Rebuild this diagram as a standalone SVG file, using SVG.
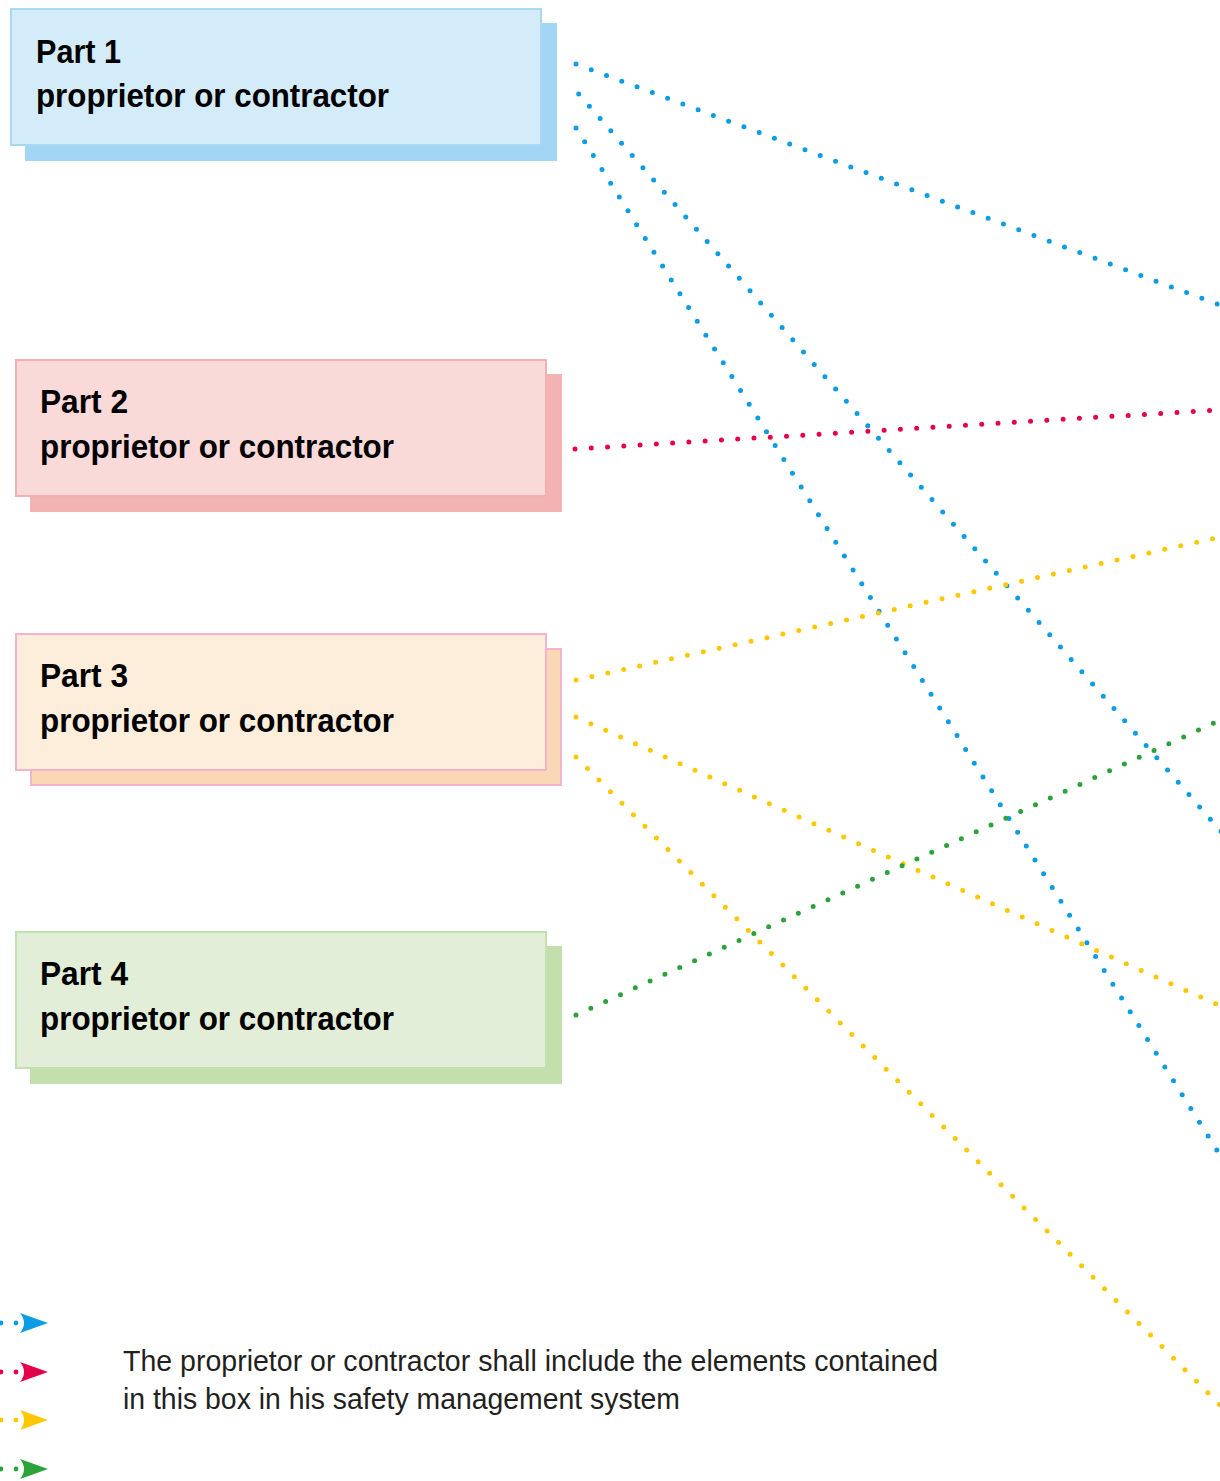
<svg xmlns="http://www.w3.org/2000/svg" width="1220" height="1481" viewBox="0 0 1220 1481">
<style>
.title{font-family:"Liberation Sans",Arial,sans-serif;font-weight:bold;font-size:34px;fill:#000}
.legend{font-family:"Liberation Sans",Arial,sans-serif;font-size:29px;fill:#231f20}
.dot{fill:none;stroke-width:5;stroke-linecap:round;stroke-dasharray:0 16.3}
.blue{stroke:#0b9de3}.red{stroke:#e4004b}.yellow{stroke:#ffc700}.green{stroke:#2ba33a}
</style>
<rect width="1220" height="1481" fill="#fff"/>
<g id="part1">
<rect x="25" y="23" width="532" height="138" fill="#a2d6f4"/>
<rect x="11" y="9" width="530" height="136" fill="#d4ecf9" stroke="#a8d8f3" stroke-width="2"/>
<text class="title" x="36" y="63" textLength="85" lengthAdjust="spacingAndGlyphs">Part 1</text>
<text class="title" x="36" y="107" textLength="353" lengthAdjust="spacingAndGlyphs">proprietor or contractor</text>
</g>
<g id="part2">
<rect x="30" y="374" width="532" height="138" fill="#f4b3b3"/>
<rect x="16" y="360" width="530" height="136" fill="#fadad9" stroke="#f4b0b0" stroke-width="2"/>
<text class="title" x="40" y="413" textLength="88" lengthAdjust="spacingAndGlyphs">Part 2</text>
<text class="title" x="40" y="458" textLength="354" lengthAdjust="spacingAndGlyphs">proprietor or contractor</text>
</g>
<g id="part3">
<rect x="31" y="649" width="530" height="136" fill="#fbd8b5" stroke="#f4b2d0" stroke-width="2"/>
<rect x="16" y="634" width="530" height="136" fill="#fdeddb" stroke="#f4b2d0" stroke-width="2"/>
<text class="title" x="40" y="687" textLength="88" lengthAdjust="spacingAndGlyphs">Part 3</text>
<text class="title" x="40" y="732" textLength="354" lengthAdjust="spacingAndGlyphs">proprietor or contractor</text>
</g>
<g id="part4">
<rect x="30" y="946" width="532" height="138" fill="#c3dfab"/>
<rect x="16" y="932" width="530" height="136" fill="#e2eed8" stroke="#c3e0b0" stroke-width="2"/>
<text class="title" x="40" y="985" textLength="88" lengthAdjust="spacingAndGlyphs">Part 4</text>
<text class="title" x="40" y="1030" textLength="354" lengthAdjust="spacingAndGlyphs">proprietor or contractor</text>
</g>
<g id="connectors">
<line class="dot blue" x1="576" y1="64" x2="1225" y2="307"/>
<line class="dot blue" x1="578.7" y1="94" x2="1225" y2="836"/>
<line class="dot blue" x1="576" y1="128" x2="1225" y2="1163"/>
<line class="dot red" x1="575" y1="449" x2="1225" y2="409.5"/>
<line class="dot yellow" x1="576" y1="680" x2="1225" y2="536"/>
<line class="dot yellow" x1="576" y1="717" x2="1225" y2="1008"/>
<line class="dot yellow" x1="576" y1="757" x2="1225" y2="1410"/>
<line class="dot green" x1="576" y1="1015" x2="1225" y2="718"/>
</g>
<g id="legend">
<g fill="#0b9de3"><circle cx="1" cy="1323" r="2.4"/><circle cx="16" cy="1323" r="2.4"/><path d="M20,1313 L48,1323 L20,1333 Q28,1323 20,1313 Z"/></g>
<g fill="#e4004b"><circle cx="1" cy="1372" r="2.4"/><circle cx="16" cy="1372" r="2.4"/><path d="M20,1362 L48,1372 L20,1382 Q28,1372 20,1362 Z"/></g>
<g fill="#ffc700"><circle cx="1" cy="1420" r="2.4"/><circle cx="16" cy="1420" r="2.4"/><path d="M20,1410 L48,1420 L20,1430 Q28,1420 20,1410 Z"/></g>
<g fill="#2ba33a"><circle cx="1" cy="1469" r="2.4"/><circle cx="16" cy="1469" r="2.4"/><path d="M20,1459 L48,1469 L20,1479 Q28,1469 20,1459 Z"/></g>
<text class="legend" x="123" y="1371" textLength="815" lengthAdjust="spacingAndGlyphs">The proprietor or contractor shall include the elements contained</text>
<text class="legend" x="123" y="1409" textLength="557" lengthAdjust="spacingAndGlyphs">in this box in his safety management system</text>
</g>
</svg>
